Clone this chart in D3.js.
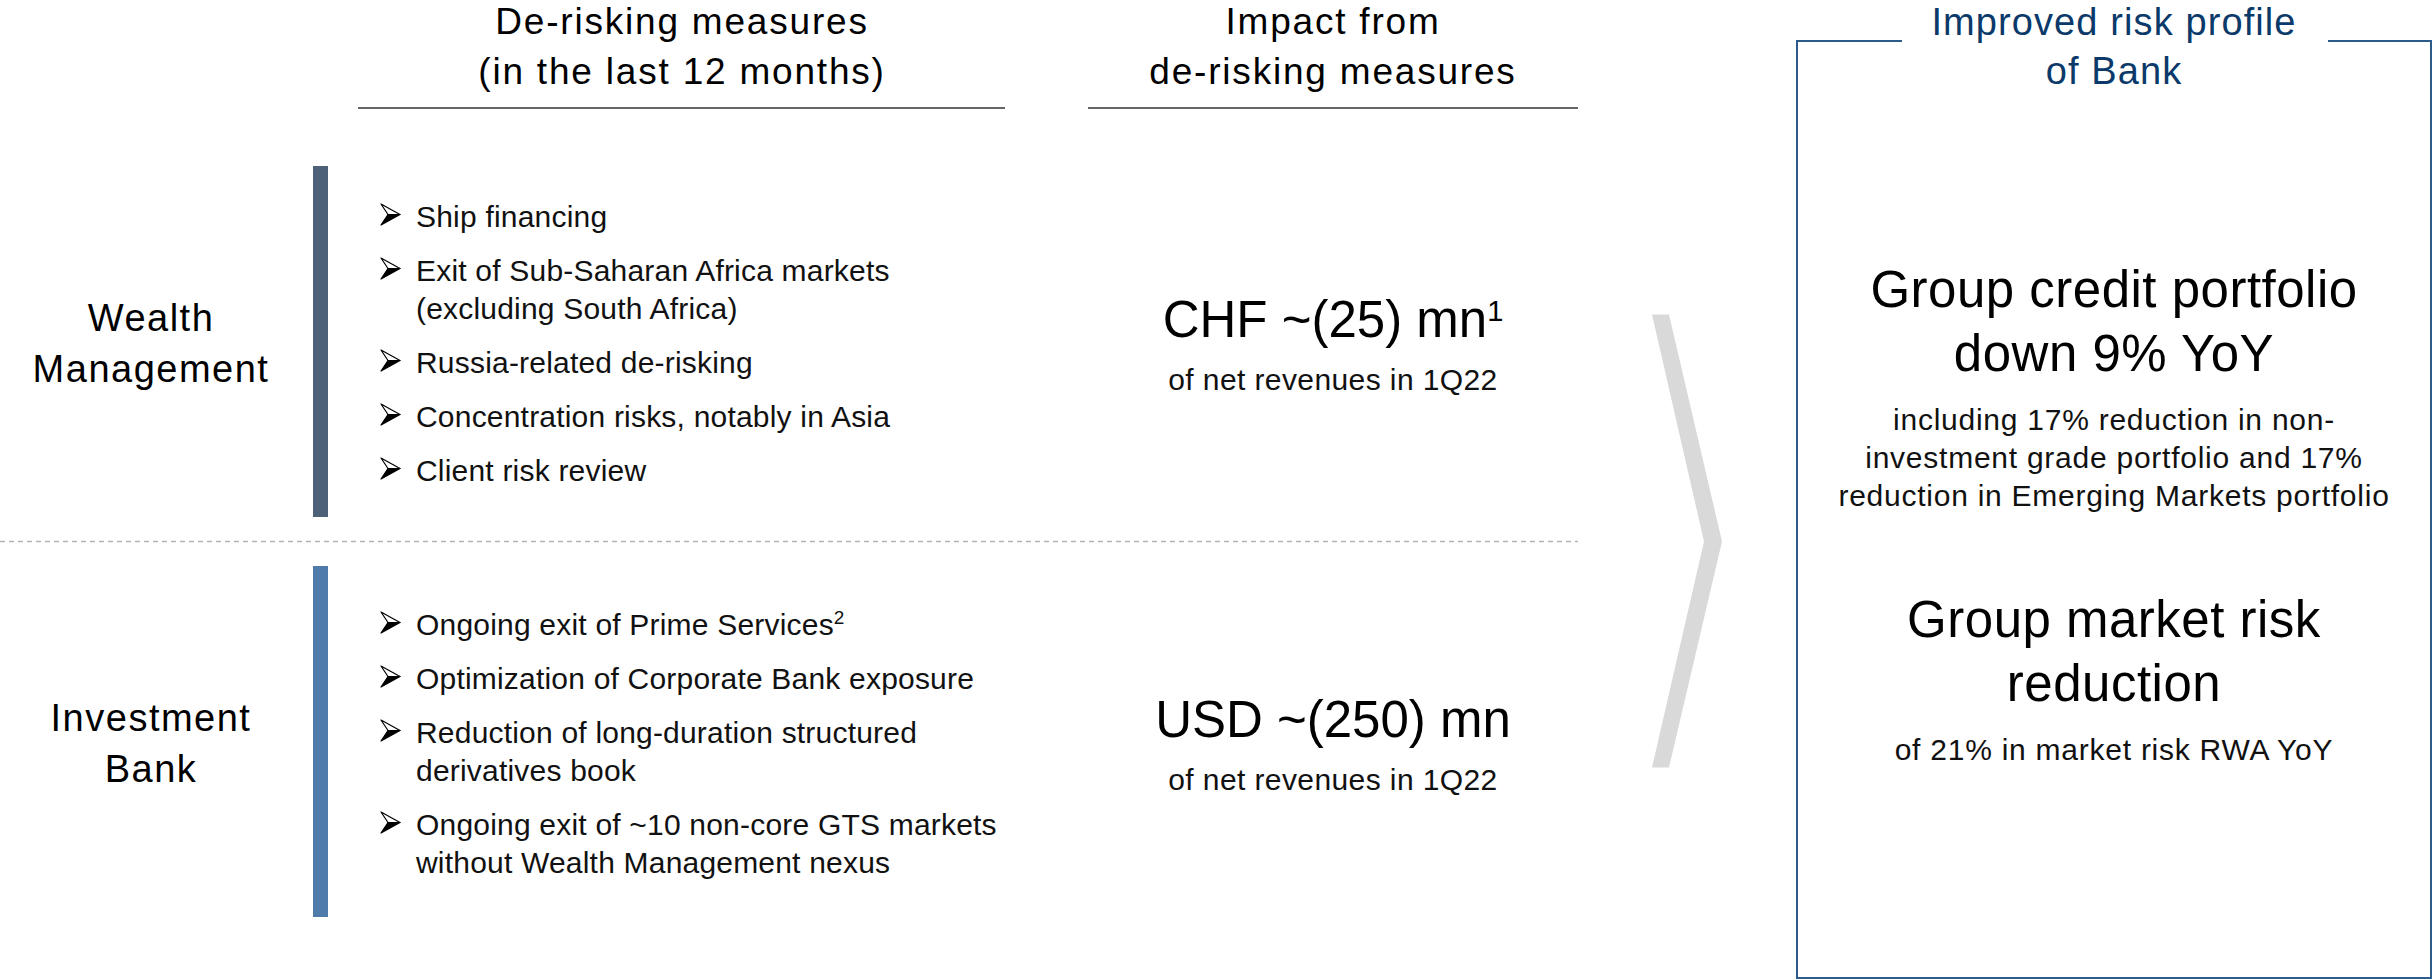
<!DOCTYPE html>
<html>
<head>
<meta charset="utf-8">
<script src="https://d3js.org/d3.v7.min.js"></script>
<style>
body { margin: 0; background: #fff; }
svg { display: block; font-family: "Liberation Sans", Arial, Helvetica, sans-serif; }
</style>
</head>
<body>
<svg id="chart"></svg>
<script>
// ---- content of the slide ----
const segments = ["Wealth Management", "Investment Bank"];
const segmentLabels = [["Wealth", "Management"], ["Investment", "Bank"]];
const segmentColors = ["#4d6178", "#4f7bab"];

const columnTitles = [["De-risking measures", "(in the last 12 months)"],
                      ["Impact from", "de-risking measures"]];

const wmMeasures = [["Ship financing"],
                    ["Exit of Sub-Saharan Africa markets", "(excluding South Africa)"],
                    ["Russia-related de-risking"],
                    ["Concentration risks, notably in Asia"],
                    ["Client risk review"]];
const wmNotes = ["", "", "", "", ""];
const ibMeasures = [["Ongoing exit of Prime Services"],
                    ["Optimization of Corporate Bank exposure"],
                    ["Reduction of long-duration structured", "derivatives book"],
                    ["Ongoing exit of ~10 non-core GTS markets", "without Wealth Management nexus"]];
const ibNotes = ["2", "", "", ""];

const impactValues = ["CHF ~(25) mn", "USD ~(250) mn"];
const impactNotes = ["1", ""];
const impactBasis = ["of net revenues in 1Q22", "of net revenues in 1Q22"];

const boxTitle = ["Improved risk profile", "of Bank"];
const outcomeHeads = [["Group credit portfolio", "down 9% YoY"],
                      ["Group market risk", "reduction"]];
const outcomeDetails = [["including 17% reduction in non-",
                         "investment grade portfolio and 17%",
                         "reduction in Emerging Markets portfolio"],
                        ["of 21% in market risk RWA YoY"]];

// ---- layout ----
const width = 2433, height = 980;
const measures = [wmMeasures, ibMeasures];
const notes = [wmNotes, ibNotes];

const svg = d3.select("#chart").attr("width", width).attr("height", height);

// rows (segments) on a band scale
const yRow = d3.scaleBand()
    .domain(segments)
    .range([166, 917])
    .paddingInner(0.1225)
    .paddingOuter(0);

// columns
const x = {
    label: 151, bar: 313, arrow: 381, text: 416,
    col1: 682, col1Line: [358, 1005],
    col2: 1333, col2Line: [1088, 1578],
    box: [1797, 2431], boxTop: 41, boxBottom: 978, gap: [1902, 2328]
};
const boxMid = (x.box[0] + x.box[1]) / 2;

const ink = "#111";

// column headers
columnTitles.forEach(function(lines, i) {
    const cx = i == 0 ? x.col1 : x.col2;
    const ln = i == 0 ? x.col1Line : x.col2Line;
    svg.append("text")
        .attr("text-anchor", "middle")
        .attr("font-size", 37)
        .attr("letter-spacing", "1.8px")
        .attr("fill", "#000")
        .selectAll("tspan")
        .data(lines)
        .join("tspan")
        .attr("x", cx)
        .attr("y", (d, j) => 34 + j * 50)
        .text(d => d);
    svg.append("line")
        .attr("x1", ln[0]).attr("x2", ln[1])
        .attr("y1", 108).attr("y2", 108)
        .attr("stroke", "#333").attr("stroke-width", 1.5);
});

// dashed separator between the rows
const sepY = (yRow(segments[0]) + yRow.bandwidth() + yRow(segments[1])) / 2;
svg.append("line")
    .attr("x1", 0).attr("x2", x.col2Line[1])
    .attr("y1", sepY).attr("y2", sepY)
    .attr("stroke", "#b3b3b3").attr("stroke-width", 1.5)
    .attr("stroke-dasharray", "5,4");

// rows
segments.forEach(function(seg, i) {
    const top = yRow(seg);
    const mid = top + yRow.bandwidth() / 2;

    // coloured bar
    svg.append("rect")
        .attr("x", x.bar).attr("y", top)
        .attr("width", 15).attr("height", yRow.bandwidth())
        .attr("fill", segmentColors[i]);

    // segment label
    svg.append("text")
        .attr("text-anchor", "middle")
        .attr("font-size", 38)
        .attr("letter-spacing", "1.5px")
        .attr("fill", "#000")
        .selectAll("tspan")
        .data(segmentLabels[i])
        .join("tspan")
        .attr("x", x.label)
        .attr("y", (d, j) => mid + 14.5 - 25.5 + j * 51)
        .text(d => d);

    // bullets
    const items = measures[i];
    const bulletGap = 54, wrapGap = 38;
    let pos = [];
    let y = 0;
    items.forEach(function(lines, k) {
        if (k > 0) y += bulletGap;
        lines.forEach(function(l, m) {
            if (m > 0) y += wrapGap;
            pos.push({ text: l, y: y, first: m == 0, note: m == lines.length - 1 ? notes[i][k] : "" });
        });
    });
    const startY = mid - y / 2 + 12;

    pos.forEach(function(p) {
        const by = startY + p.y;
        if (p.first) {
            const ax = x.arrow;
            // three-d arrowhead: outlined top half, black lower half
            svg.append("path")
                .attr("d", `M${ax},${by - 22.5} L${ax + 19},${by - 12} L${ax + 7},${by - 12} Z`)
                .attr("fill", "#fff").attr("stroke", "#000").attr("stroke-width", 1.2)
                .attr("stroke-linejoin", "round");
            svg.append("path")
                .attr("d", `M${ax + 7},${by - 12} L${ax + 19},${by - 12} L${ax},${by - 1.5} Z`)
                .attr("fill", "#000").attr("stroke", "#000").attr("stroke-width", 1.2)
                .attr("stroke-linejoin", "round");
        }
        const t = svg.append("text")
            .attr("x", x.text).attr("y", by)
            .attr("font-size", 30)
            .attr("letter-spacing", "0.2px")
            .attr("fill", ink)
            .text(p.text);
        if (p.note) {
            t.append("tspan")
                .attr("font-size", 19)
                .attr("dy", -11)
                .text(p.note);
        }
    });

    // impact column
    const v = svg.append("text")
        .attr("x", x.col2).attr("y", mid - 4.5)
        .attr("text-anchor", "middle")
        .attr("font-size", 51)
        .attr("fill", "#000")
        .text(impactValues[i]);
    if (impactNotes[i]) {
        v.append("tspan")
            .attr("font-size", 29)
            .attr("dy", -16)
            .text(impactNotes[i]);
    }
    svg.append("text")
        .attr("x", x.col2).attr("y", mid + 48.5)
        .attr("text-anchor", "middle")
        .attr("font-size", 30)
        .attr("letter-spacing", "0.4px")
        .attr("fill", ink)
        .text(impactBasis[i]);
});

// chevron
const cy = sepY;
const chev = [[1652, cy - 227], [1669, cy - 227], [1722, cy], [1669, cy + 226],
              [1652, cy + 226], [1704, cy]];
svg.append("path")
    .attr("d", d3.line()(chev) + "Z")
    .attr("fill", "#d9d9d9");

// outcome box with a gap for the title
svg.append("path")
    .attr("d", d3.line()([[x.gap[0], x.boxTop], [x.box[0], x.boxTop], [x.box[0], x.boxBottom],
                          [x.box[1], x.boxBottom], [x.box[1], x.boxTop], [x.gap[1], x.boxTop]]))
    .attr("fill", "none")
    .attr("stroke", "#2d5b8c")
    .attr("stroke-width", 2);

svg.append("text")
    .attr("text-anchor", "middle")
    .attr("font-size", 38)
    .attr("letter-spacing", "1.1px")
    .attr("fill", "#0b3a6a")
    .selectAll("tspan")
    .data(boxTitle)
    .join("tspan")
    .attr("x", boxMid)
    .attr("y", (d, j) => 35 + j * 49)
    .text(d => d);

const yOut = d3.scalePoint()
    .domain(d3.range(outcomeHeads.length))
    .range([307, 637]);

outcomeHeads.forEach(function(lines, i) {
    const y0 = yOut(i);
    svg.append("text")
        .attr("text-anchor", "middle")
        .attr("font-size", 51)
        .attr("letter-spacing", "0.5px")
        .attr("fill", "#000")
        .selectAll("tspan")
        .data(lines)
        .join("tspan")
        .attr("x", boxMid)
        .attr("y", (d, j) => y0 + j * 64)
        .text(d => d);
    const dy0 = y0 + (lines.length - 1) * 64 + 59;
    svg.append("text")
        .attr("text-anchor", "middle")
        .attr("font-size", 30)
        .attr("letter-spacing", "0.75px")
        .attr("fill", ink)
        .selectAll("tspan")
        .data(outcomeDetails[i])
        .join("tspan")
        .attr("x", boxMid)
        .attr("y", (d, j) => dy0 + j * 38)
        .text(d => d);
});
</script>
</body>
</html>
